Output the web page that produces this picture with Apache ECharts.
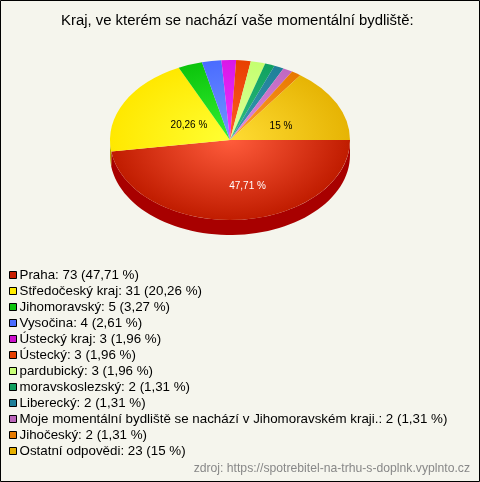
<!DOCTYPE html>
<html><head><meta charset="utf-8">
<style>html,body{margin:0;padding:0;background:#f5f5ed}#c{width:480px;height:482px}</style>
<script src="https://cdn.jsdelivr.net/npm/echarts@6/dist/echarts.min.js"></script>
</head><body><div id="c"></div>
<script>
const categories=["Praha","Středočeský kraj","Jihomoravský","Vysočina","Ústecký kraj","Ústecký","pardubický","moravskoslezský","Liberecký","Moje momentální bydliště se nachází v Jihomoravském kraji.","Jihočeský","Ostatní odpovědi"];
const counts=[73,31,5,4,3,3,3,2,2,2,2,23];
const percents=["47,71","20,26","3,27","2,61","1,96","1,96","1,96","1,31","1,31","1,31","1,31","15"];
const baseColors=["#c81e00","#ffec00","#0cc40c","#4a6cff","#cc11cc","#e64000","#c8ff78","#0fa060","#1f7f99","#bb66bb","#e67a00","#e6b000"];
const innerColors=["#ff5c3c","#ffff33","#33f033","#7396ff","#f033ff","#ff5c28","#e0ff9c","#30c080","#3a9cb0","#e08ce0","#ffa030","#ffdc33"];
const outerColors=["#c01c00","#ffe800","#0cc40c","#4a6cff","#d818e8","#e84000","#c4ff70","#0fa060","#1f7f99","#c068c0","#e87800","#e6b404"];
const sideColors=["#a80000","#b8a800","#088008","#3048b0","#880888","#982800","#88b050","#086840","#105868","#804080","#985000","#987400"];
const labelSpots={0:[0.146,0.575,"#fff"],1:[-0.342,-0.188,"#000"],11:[0.425,-0.178,"#000"]};

const CX=230,CY=140,RX=120,RY=80,DEPTH=15;
const total=counts.reduce((a,b)=>a+b,0);
const starts=[];counts.reduce((acc,v,i)=>{starts[i]=acc;return acc+v;},0);
const toAngle=v=>v/total*Math.PI*2;

function sidePoly(a0,a1){
  const e=Math.min(a1,Math.PI);
  if(a0>=Math.PI)return null;
  const top=[],bot=[],n=60;
  for(let k=0;k<=n;k++){
    const a=a0+(e-a0)*k/n,x=CX+RX*Math.cos(a),y=CY+RY*Math.sin(a);
    top.push([x,y]);bot.unshift([x,y+DEPTH]);
  }
  return top.concat(bot);
}
const series=categories.map((name,i)=>({
  type:'custom',name,coordinateSystem:'none',silent:true,clip:false,
  itemStyle:{color:baseColors[i]},
  data:[[counts[i]]],
  renderItem(params,api){
    const a0=toAngle(starts[i]),a1=a0+toAngle(api.value(0));
    const children=[];
    const poly=sidePoly(a0,a1);
    if(poly)children.push({type:'polygon',shape:{points:poly},style:{fill:sideColors[i]}});
    children.push({type:'group',x:CX,y:CY,scaleY:RY/RX,children:[{
      type:'sector',
      shape:{cx:0,cy:0,r0:0,r:RX,startAngle:a0,endAngle:a1,clockwise:true},
      style:{fill:{type:'radial',x:0,y:0,r:RX,global:true,colorStops:[
        {offset:0,color:innerColors[i]},{offset:1,color:outerColors[i]}]}}
    }]});
    const s=labelSpots[i];
    if(s)children.push({type:'text',x:CX+s[0]*RX,y:CY+s[1]*RY,z2:10,style:{
      text:percents[i]+' %',fill:s[2],font:'10px "Liberation Sans"',align:'center',verticalAlign:'middle'}});
    return {type:'group',children};
  }
}));
const chart=echarts.init(document.getElementById('c'),null,{renderer:'canvas'});
chart.setOption({
  animation:false,backgroundColor:'#f5f5ed',
  title:[
    {text:'Kraj, ve kterém se nachází vaše momentální bydliště:',left:61,top:13,padding:0,
     textStyle:{fontFamily:'Liberation Sans',fontSize:14.9,fontWeight:'normal',color:'#000'}},
    {text:'zdroj: https://spotrebitel-na-trhu-s-doplnk.vyplnto.cz',right:10,top:463,padding:0,
     textStyle:{fontFamily:'Liberation Sans',fontSize:12.2,fontWeight:'normal',color:'#888'}}
  ],
  legend:{
    orient:'vertical',left:9,top:268,padding:0,itemWidth:7,itemHeight:7,itemGap:2,selectedMode:false,icon:'rect',
    itemStyle:{borderColor:'#000',borderWidth:1},
    data:categories,
    formatter:n=>{const i=categories.indexOf(n);return `${n}: ${counts[i]} (${percents[i]} %)`;},
    textStyle:{fontFamily:'Liberation Sans',fontSize:13.35,color:'#000',lineHeight:14,padding:[0,0,0,-2]}
  },
  graphic:[{type:'rect',shape:{x:0.5,y:0.5,width:479,height:481},style:{fill:null,stroke:'#000',lineWidth:1},silent:true}],
  series
});
</script></body></html>
